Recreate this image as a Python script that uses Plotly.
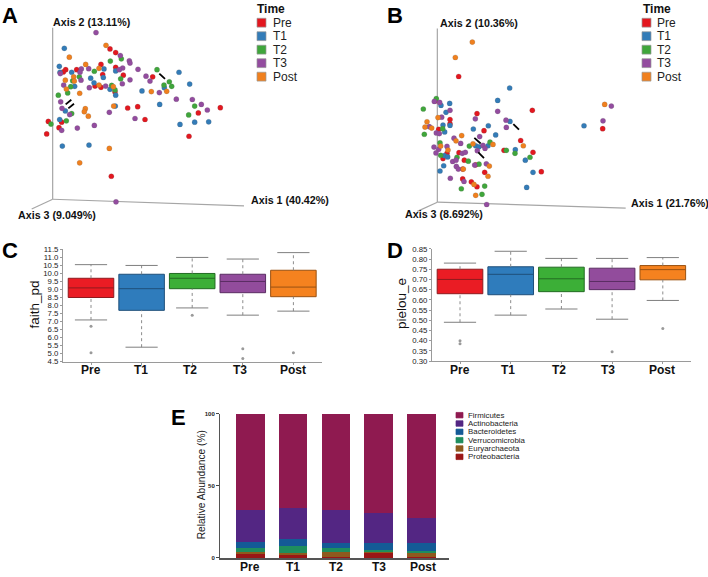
import plotly.graph_objects as go

W, H = 708, 577
groups = ["Pre", "T1", "T2", "T3", "Post"]
group_colors = ["#E3171F", "#337CB8", "#3FA63B", "#934C9F", "#F0801E"]
box_fill = ["#EA1C24", "#2F7CBC", "#3CAF37", "#924C9C", "#F5821F"]
box_line = ["#8E1A1E", "#1F4F7A", "#226B22", "#5A2D63", "#9A5212"]

# Panel A ordination coordinates, per group
a_pre = [(330,137),(347,148),(197,200),(190,207),(230,200),(303,184),(347,193),(308,215),(370,217),(285,250),(303,254),(345,268),(458,222),(383,317),(413,313),(435,352),(145,358),(177,377),(185,360),(140,396),(595,332),(661,316),(567,403),(334,525)]
a_t1 = [(193,135),(178,190),(180,208),(215,208),(312,198),(347,204),(272,226),(282,240),(224,251),(310,224),(330,260),(347,278),(346,311),(426,265),(479,306),(537,208),(569,244),(540,367),(584,360),(626,359),(196,326),(179,352),(187,433),(267,430),(493,255)]
a_t2 = [(471,200),(492,247),(508,237),(515,251),(364,167),(331,174),(283,205),(238,222),(218,234),(212,252),(203,271),(175,278),(362,228),(335,248),(584,311),(566,338),(215,334),(199,356),(153,366),(345,262)]
a_t3 = [(288,87),(361,157),(388,173),(390,180),(414,199),(368,195),(358,200),(244,198),(240,208),(181,212),(266,197),(243,232),(191,247),(268,255),(317,250),(367,243),(390,231),(438,220),(450,235),(478,270),(529,290),(577,291),(604,306),(622,323),(182,298),(186,318),(209,337),(232,378),(283,370),(185,385),(328,330),(405,349),(348,603)]
a_post = [(318,126),(208,162),(257,184),(297,196),(221,222),(196,232),(223,235),(199,259),(239,272),(297,247),(340,252),(454,267),(500,266),(341,311),(256,319),(253,328),(265,342),(328,440),(239,484)]

# Panel B ordination coordinates, per group
b_pre = [(314,221),(245,295),(369,334),(535,324),(288,352),(288,365),(254,382),(390,386),(500,416),(450,446),(537,452),(315,453),(279,455),(267,471),(331,476),(365,490),(326,503),(392,513),(562,511),(326,533),(352,542),(369,557),(746,380)]
b_t1 = [(467,256),(431,294),(287,303),(261,309),(276,330),(288,370),(267,369),(272,390),(358,381),(403,371),(425,399),(468,358),(365,432),(375,435),(402,432),(484,444),(514,476),(537,513),(518,559),(269,493),(258,509),(271,462),(281,466),(690,371)]
b_t2 = [(247,288),(208,320),(211,397),(266,380),(258,423),(346,433),(408,421),(457,446),(483,455),(528,467),(260,461),(309,467),(343,479),(375,488),(392,555),(384,580),(322,563)]
b_t3 = [(241,297),(257,300),(288,324),(263,345),(364,350),(431,327),(456,354),(457,376),(247,393),(256,395),(300,409),(320,425),(377,404),(387,431),(393,440),(370,447),(240,436),(254,443),(279,434),(246,454),(325,455),(334,452),(296,480),(307,495),(313,503),(362,491),(397,487),(289,531),(330,541),(398,611),(772,311),(747,356),(226,374),(306,476)]
b_post = [(355,116),(304,163),(252,346),(219,359),(213,375),(233,378),(323,401),(306,417),(357,426),(417,428),(260,433),(282,445),(508,432),(406,494),(402,525),(360,550),(365,583),(752,306),(328,503)]

a_arrows = [((478,212),(495,228)), ((197,306),(214,292)), ((205,318),(222,304))]
b_arrows = [((361,408),(380,425)), ((478,366),(495,383)), ((373,452),(390,470))]
a_axes = [((158,72),(158,595)), ((158,595),(732,615)), ((158,595),(95,625))]
b_axes = [((250,75),(250,604)), ((250,604),(815,622)), ((250,604),(190,632))]

# Box statistics: low whisker, q1, median, q3, high whisker
c_stats = [(7.1,8.5,9.1,9.7,10.55),(5.4,7.7,9.05,9.95,10.5),(7.85,9.05,9.7,10.0,11.0),(7.4,8.8,9.5,9.95,10.9),(7.65,8.55,9.15,10.2,11.3)]
c_out = [[6.7,5.05],[],[7.4],[5.3,4.7],[5.05]]
d_stats = [(0.49,0.63,0.70,0.75,0.78),(0.525,0.625,0.725,0.762,0.838),(0.555,0.64,0.703,0.76,0.803),(0.505,0.65,0.69,0.755,0.803),(0.597,0.698,0.748,0.768,0.807)]
d_out = [[0.40,0.385],[],[],[0.345],[0.46]]

# Panel E stacked abundance
phyla = ["Firmicutes","Actinobacteria","Bacteroidetes","Verrucomicrobia","Euryarchaeota","Proteobacteria"]
phyla_colors = ["#8F1A50","#532683","#145A96","#1E8E5E","#8E5A1E","#9A1616"]
proteobacteria = [3.0,2.2,0.8,3.8,0.8]
euryarchaeota = [1.3,1.5,3.2,1.0,3.2]
verrucomicrobia = [2.7,4.6,3.2,1.0,0.8]
bacteroidetes = [4.0,4.7,3.1,4.7,5.7]
actinobacteria = [22.5,21.5,22.7,20.5,17.0]
firmicutes = [66.5,65.5,67.0,69.0,72.5]
stack = [("Proteobacteria",proteobacteria),("Euryarchaeota",euryarchaeota),("Verrucomicrobia",verrucomicrobia),("Bacteroidetes",bacteroidetes),("Actinobacteria",actinobacteria),("Firmicutes",firmicutes)]

FONT = "Liberation Sans"
fig = go.Figure()
shapes, ann = [], []

def xd(a, b): return [a / W, b / W]
def yd(top, bottom): return [1 - bottom / H, 1 - top / H]

def text(x, y, s, size, bold=False, anchor="left", angle=0, color="#111"):
    ann.append(dict(xref="paper", yref="paper", x=x / W, y=1 - y / H, text=f"<b>{s}</b>" if bold else s,
                    showarrow=False, xanchor=anchor, yanchor="middle", textangle=angle,
                    font=dict(family=FONT, size=size, color=color)))

def swatch(x0, y0, x1, y1, color, edge="#999"):
    shapes.append(dict(type="rect", xref="paper", yref="paper", x0=x0 / W, x1=x1 / W, y0=1 - y0 / H, y1=1 - y1 / H,
                       fillcolor=color, line=dict(color=edge, width=0.7)))

def ordination(idx, left, pts, arrows, axlines):
    xn, yn = f"x{idx}", f"y{idx}"
    for (p, q) in axlines:
        shapes.append(dict(type="line", xref=xn, yref=yn, x0=p[0], y0=p[1], x1=q[0], y1=q[1],
                           line=dict(color="#A6A6A6", width=1.2), layer="below"))
    for name, col, data in zip(groups, group_colors, pts):
        fig.add_trace(go.Scatter(x=[d[0] for d in data], y=[d[1] for d in data], mode="markers", name=name,
                                 xaxis=xn, yaxis=yn, showlegend=False,
                                 marker=dict(size=5.2, color=col, line=dict(color="rgba(90,90,90,0.45)", width=0.4))))
    for (p, q) in arrows:
        shapes.append(dict(type="line", xref=xn, yref=yn, x0=p[0], y0=p[1], x1=q[0], y1=q[1],
                           line=dict(color="#000", width=1.8)))
    ax = dict(visible=False, fixedrange=True)
    fig.update_layout({f"xaxis{idx}": dict(ax, domain=xd(left, left + 354), range=[0, 1062]),
                       f"yaxis{idx}": dict(ax, domain=yd(0, 220), range=[660, 0])})

def boxes(idx, xa, xb, ytop, ybot, center0, step, stats, outliers, yrange, dtick, fmt, title, title_x, label_x):
    xn, yn = f"x{idx}", f"y{idx}"
    for g, st in zip(groups, stats):
        fig.add_trace(go.Scatter(x=[g, g, None, g, g], y=[st[0], st[1], None, st[3], st[4]], mode="lines",
                                 xaxis=xn, yaxis=yn, showlegend=False,
                                 line=dict(color="#8C8C8C", width=1, dash="dot")))
        fig.add_trace(go.Scatter(x=[g, g], y=[st[0], st[4]], mode="markers", xaxis=xn, yaxis=yn, showlegend=False,
                                 marker=dict(symbol="line-ew", size=23, line=dict(color="#7F7F7F", width=1))))
    for g, st, f, l, o in zip(groups, stats, box_fill, box_line, outliers):
        fig.add_trace(go.Box(x=[g], q1=[st[1]], median=[st[2]], q3=[st[3]], lowerfence=[st[1]], upperfence=[st[3]],
                             width=0.9, whiskerwidth=0, fillcolor=f, line=dict(color=l, width=1), xaxis=xn, yaxis=yn,
                             showlegend=False, name=g, boxpoints=False))
        if o:
            fig.add_trace(go.Scatter(x=[g] * len(o), y=o, mode="markers", xaxis=xn, yaxis=yn, showlegend=False,
                                     marker=dict(size=3, color="#9A9A9A")))
    fig.update_layout({
        f"xaxis{idx}": dict(domain=xd(xa, xb), range=[(xa - center0) / step, (xb - center0) / step], type="category",
                            categoryorder="array", categoryarray=groups, showgrid=False, zeroline=False,
                            showline=True, linecolor="#9A9A9A", linewidth=1, ticks="outside", ticklen=2,
                            tickcolor="#9A9A9A", showticklabels=False, anchor=yn),
        f"yaxis{idx}": dict(domain=yd(ytop, ybot), range=yrange, tick0=yrange[0], dtick=dtick, tickformat=fmt,
                            showgrid=False, zeroline=False, showline=True, linecolor="#9A9A9A", linewidth=1,
                            ticks="outside", ticklen=2, tickcolor="#9A9A9A", anchor=xn,
                            tickfont=dict(family=FONT, size=7.8, color="#222")),
    })
    text(title_x, (ytop + ybot) / 2 - 1, title, 13.5, angle=-90, anchor="center")
    for i, g in enumerate(groups):
        text(label_x[i], 372, g, 12, bold=True, anchor="center")

# Scatter panels
ordination(1, 0, [a_pre, a_t1, a_t2, a_t3, a_post], a_arrows, a_axes)
ordination(2, 354, [b_pre, b_t1, b_t2, b_t3, b_post], b_arrows, b_axes)

text(51, 18, "Axis 2 (13.11%)", 10.7, True)
text(249, 199, "Axis 1 (40.42%)", 10.7, True)
text(16, 214, "Axis 3 (9.049%)", 10.7, True)
text(438, 19, "Axis 2 (10.36%)", 10.7, True)
text(629, 202, "Axis 1 (21.76%)", 10.7, True)
text(403, 213, "Axis 3 (8.692%)", 10.7, True)

# Panel letters
for s, x, y in [("A", 0, 12), ("B", 385, 12), ("C", 0, 250), ("D", 385, 250), ("E", 169, 420)]:
    text(x, y, s, 22, True, color="#000")

# Time legends
for sx, tx, hx in [(257, 271, 255), (642, 655, 641)]:
    text(hx, 5, "Time", 12, True)
    for i, (g, c) in enumerate(zip(groups, group_colors)):
        yc = 19 + i * 13.7
        swatch(sx, yc - 4.5, sx + 9, yc + 4.5, c)
        text(tx, yc, g, 12, color="#222")

# Box panels
boxes(3, 63, 322, 249.3, 363.3, 91, 50.6, c_stats, c_out, [4.5, 11.5], 0.5, ".1f", "faith_pd", 35, [91, 141, 190, 240, 293])
boxes(4, 432, 691, 248.7, 362.7, 460, 50.7, d_stats, d_out, [0.30, 0.85], 0.05, ".2f", "pielou_e", 402, [460, 508, 559, 608, 662])

# Stacked bars
for (name, vals) in stack:
    fig.add_trace(go.Bar(x=groups, y=vals, name=name, xaxis="x5", yaxis="y5", showlegend=False, width=0.67,
                         marker=dict(color=phyla_colors[phyla.index(name)], line=dict(width=0))))
fig.update_layout(barmode="stack",
    xaxis5=dict(domain=xd(220, 449), range=[(220 - 250.3) / 42.8, (449 - 250.3) / 42.8], type="category",
                categoryorder="array", categoryarray=groups, showgrid=False, zeroline=False, showline=True,
                linecolor="#555", linewidth=1.5, ticks="", showticklabels=False, anchor="y5"),
    yaxis5=dict(domain=yd(416.3, 562.7), range=[0, 100], tickvals=[0, 50, 100], showgrid=False, zeroline=False,
                showline=True, linecolor="#555", linewidth=1, ticks="outside", ticklen=3, tickcolor="#444",
                tickfont=dict(family=FONT, size=6, color="#222", weight=700), anchor="x5"))
for g, x in zip(groups, [250, 293, 336, 379, 423]):
    text(x, 572, g, 12, True, anchor="center")
text(201, 489, "Relative Abundance (%)", 10.2, anchor="center", angle=-90, color="#222")
for i, (p, c) in enumerate(zip(phyla, phyla_colors)):
    yc = 417.7 + i * 8.46
    swatch(456, yc - 2.8, 463, yc + 2.8, c, edge=c)
    text(466, yc, p, 7.9, color="#222")

fig.update_layout(width=W, height=H, margin=dict(l=0, r=0, t=0, b=0), paper_bgcolor="white", plot_bgcolor="white",
                  shapes=shapes, annotations=ann, showlegend=False, boxmode="overlay", font=dict(family=FONT))
fig.write_html("out.html", post_script="document.body.style.margin='0';document.documentElement.style.overflow='hidden';",
               config=dict(displayModeBar=False))
